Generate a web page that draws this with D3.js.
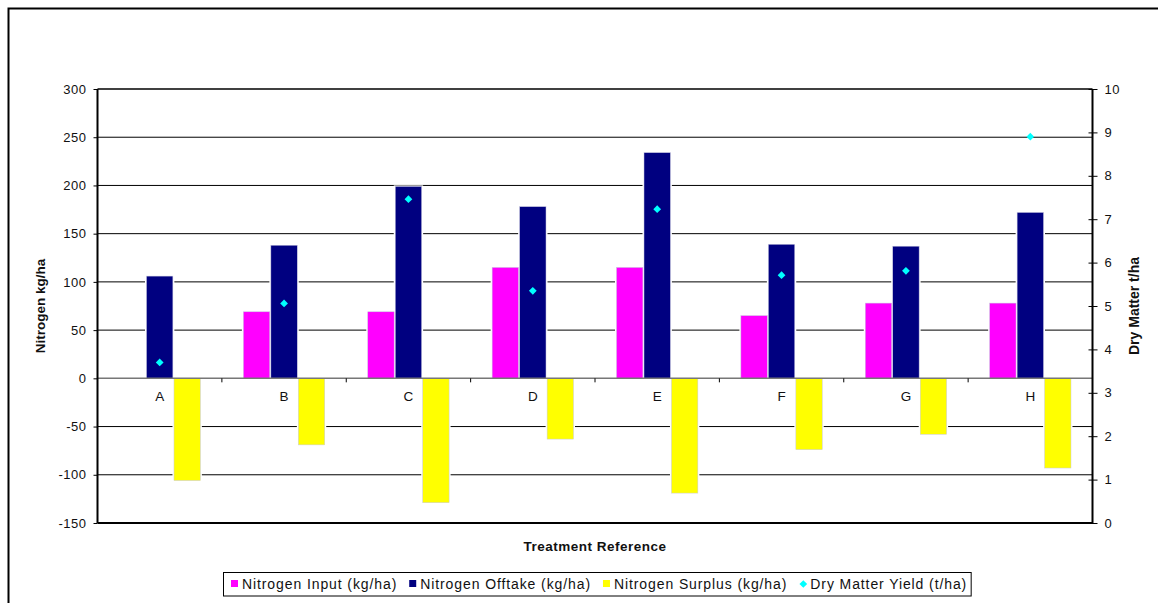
<!DOCTYPE html>
<html>
<head>
<meta charset="utf-8">
<script src="https://cdn.jsdelivr.net/npm/d3@7"></script>
<style>
  html, body { margin: 0; padding: 0; background: #fff; }
  svg { display: block; font-family: "Liberation Sans", Arial, sans-serif; }
</style>
</head>
<body>
<svg id="chart" width="1158" height="603"></svg>
<script>
// Treatment categories
const categories = ["A", "B", "C", "D", "E", "F", "G", "H"];
// Nitrogen balance per treatment (kg/ha)
const nitrogenInput   = [0, 69, 69, 115, 115, 65, 78, 78];
const nitrogenOfftake = [106, 138, 199, 178, 234, 139, 137, 172];
const nitrogenSurplus = [-106, -69, -129, -63, -119, -74, -58, -93];
// Dry matter yield per treatment (t/ha)
const dryMatterYield  = [3.70, 5.06, 7.46, 5.35, 7.23, 5.71, 5.81, 8.90];

// Axis ticks
const leftTicks  = [-150, -100, -50, 0, 50, 100, 150, 200, 250, 300];
const rightTicks = [0, 1, 2, 3, 4, 5, 6, 7, 8, 9, 10];

const seriesNames = ["Nitrogen Input (kg/ha)", "Nitrogen Offtake (kg/ha)", "Nitrogen Surplus (kg/ha)"];
const seriesColors = ["#FF00FF", "#000080", "#FFFF00"];
const yieldName = "Dry Matter Yield (t/ha)";
const yieldColor = "#00FFFF";

const svg = d3.select("#chart");

// Outer chart frame
svg.append("rect")
  .attr("x", 8.5).attr("y", 8.5)
  .attr("width", 1170).attr("height", 620)
  .attr("fill", "none").attr("stroke", "#000").attr("stroke-width", 2);

const plot = { left: 97.5, right: 1092.5, top: 89, bottom: 523 };

const x0 = d3.scaleBand()
  .domain(categories)
  .range([plot.left, plot.right])
  .paddingInner(0.346)
  .paddingOuter(0.173);

const x1 = d3.scaleBand()
  .domain(d3.range(seriesNames.length))
  .range([0, x0.bandwidth()])
  .paddingInner(0.04);

const yL = d3.scaleLinear().domain([-150, 300]).range([plot.bottom, plot.top]);
const yR = d3.scaleLinear().domain([0, 10]).range([plot.bottom, plot.top]);

const plainNumber = d => String(d);

// Horizontal gridlines
svg.append("g")
  .selectAll("line")
  .data(leftTicks.filter(v => v !== 0 && v !== -150 && v !== 300))
  .join("line")
  .attr("x1", plot.left).attr("x2", plot.right)
  .attr("y1", d => yL(d)).attr("y2", d => yL(d))
  .attr("stroke", "#000").attr("stroke-width", 1);

// Plot frame top and bottom
svg.append("line")
  .attr("x1", plot.left).attr("x2", plot.right)
  .attr("y1", yL(300)).attr("y2", yL(300))
  .attr("stroke", "#000").attr("stroke-width", 1.3);
svg.append("line")
  .attr("x1", plot.left).attr("x2", plot.right)
  .attr("y1", yL(-150)).attr("y2", yL(-150))
  .attr("stroke", "#000").attr("stroke-width", 2);

// Bars, grouped by treatment
const seriesData = [nitrogenInput, nitrogenOfftake, nitrogenSurplus];
const barRows = [];
categories.forEach((c, i) => {
  seriesData.forEach((arr, s) => {
    barRows.push({ cat: c, s, v: arr[i] });
  });
});
const visibleBars = barRows.filter(d => d.v !== 0);

const barG = svg.append("g");
// white halo that breaks gridlines around each bar
barG.selectAll("rect.halo")
  .data(visibleBars)
  .join("rect")
  .attr("class", "halo")
  .attr("x", d => x0(d.cat) + x1(d.s) - 1.5)
  .attr("width", x1.bandwidth() + 3)
  .attr("y", d => Math.min(yL(d.v), yL(0)) - 1)
  .attr("height", d => Math.abs(yL(d.v) - yL(0)) + 1)
  .attr("fill", "#fff");

barG.selectAll("rect.bar")
  .data(visibleBars)
  .join("rect")
  .attr("class", "bar")
  .attr("x", d => x0(d.cat) + x1(d.s))
  .attr("width", x1.bandwidth())
  .attr("y", d => Math.min(yL(d.v), yL(0)))
  .attr("height", d => Math.abs(yL(d.v) - yL(0)))
  .attr("fill", d => seriesColors[d.s])
  .attr("stroke", "#c8c8e0").attr("stroke-width", 0.5);

// Zero line with category ticks
svg.append("line")
  .attr("x1", plot.left).attr("x2", plot.right)
  .attr("y1", yL(0)).attr("y2", yL(0))
  .attr("stroke", "#777").attr("stroke-width", 1.5);

const xAxis = d3.axisBottom(x0).tickSize(0).tickPadding(13);
const xg = svg.append("g").attr("transform", `translate(0,${yL(0)})`).call(xAxis);
xg.select(".domain").remove();
xg.selectAll("text").attr("font-size", 13.5).attr("fill", "#111")
  .attr("font-family", "Liberation Sans, Arial, sans-serif");
// boundary ticks between categories
const step = x0.step();
svg.append("g").selectAll("line")
  .data(d3.range(1, categories.length))
  .join("line")
  .attr("x1", d => plot.left + d * step).attr("x2", d => plot.left + d * step)
  .attr("y1", yL(0)).attr("y2", yL(0) + 4)
  .attr("stroke", "#000").attr("stroke-width", 1);

// Left axis
const leftAxis = d3.axisLeft(yL).tickValues(leftTicks).tickFormat(plainNumber).tickSize(4).tickPadding(7);
const lg = svg.append("g").attr("transform", `translate(${plot.left},0)`).call(leftAxis);
lg.select(".domain").attr("stroke-width", 2).attr("d", `M0,${plot.top}V${plot.bottom}`);
lg.selectAll("text").attr("font-size", 13).attr("letter-spacing", 0.5).attr("fill", "#111")
  .attr("font-family", "Liberation Sans, Arial, sans-serif");

// Right axis (ticks cross the axis line)
const rightAxis = d3.axisRight(yR).tickValues(rightTicks).tickFormat(plainNumber).tickSize(5).tickPadding(7);
const rg = svg.append("g").attr("transform", `translate(${plot.right},0)`).call(rightAxis);
rg.select(".domain").attr("stroke-width", 2).attr("d", `M0,${plot.top}V${plot.bottom}`);
rg.selectAll(".tick line").attr("x1", -4);
rg.selectAll("text").attr("font-size", 13).attr("letter-spacing", 0.5).attr("fill", "#111")
  .attr("font-family", "Liberation Sans, Arial, sans-serif");

// Dry matter yield markers (on right axis)
const diamond = d3.symbol().type(d3.symbolSquare).size(30);
svg.append("g").selectAll("path")
  .data(categories.map((c, i) => ({ cat: c, v: dryMatterYield[i] })))
  .join("path")
  .attr("d", diamond)
  .attr("transform", d => `translate(${x0(d.cat) + x1(1) + x1.bandwidth() / 2},${yR(d.v)}) rotate(45)`)
  .attr("fill", yieldColor);

// Axis titles
svg.append("text")
  .attr("x", 595).attr("y", 551)
  .attr("text-anchor", "middle")
  .attr("font-size", 13.5).attr("letter-spacing", 0.5)
  .attr("font-weight", "bold").attr("fill", "#111")
  .text("Treatment Reference");

svg.append("text")
  .attr("transform", `translate(45,${(plot.top + plot.bottom) / 2}) rotate(-90)`)
  .attr("text-anchor", "middle")
  .attr("font-size", 13.5).attr("font-weight", "bold").attr("fill", "#111")
  .text("Nitrogen kg/ha");

svg.append("text")
  .attr("transform", `translate(1139,${(plot.top + plot.bottom) / 2}) rotate(-90)`)
  .attr("text-anchor", "middle")
  .attr("font-size", 14).attr("font-weight", "bold").attr("fill", "#111")
  .text("Dry Matter t/ha");

// Legend
const legendItems = seriesNames.map((n, i) => ({ name: n, color: seriesColors[i], kind: "square" }))
  .concat([{ name: yieldName, color: yieldColor, kind: "diamond" }]);
const legend = svg.append("g");
const legendBox = legend.append("rect")
  .attr("fill", "#fff").attr("stroke", "#000").attr("stroke-width", 1);
let cx = 231;
const ly = 584;
legendItems.forEach(item => {
  if (item.kind === "square") {
    legend.append("rect")
      .attr("x", cx).attr("y", ly - 4).attr("width", 7).attr("height", 7)
      .attr("fill", item.color);
  } else {
    legend.append("path")
      .attr("d", diamond)
      .attr("transform", `translate(${cx + 4},${ly}) rotate(45)`)
      .attr("fill", item.color);
  }
  const t = legend.append("text")
    .attr("x", cx + 11).attr("y", ly + 5)
    .attr("font-size", 14).attr("letter-spacing", 0.9).attr("fill", "#111")
    .text(item.name);
  cx += 11 + t.node().getComputedTextLength() + 12;
});
legendBox
  .attr("x", 223.5).attr("y", 572.5)
  .attr("width", cx - 12 + 4 - 223.5).attr("height", 23.5);
</script>
</body>
</html>
